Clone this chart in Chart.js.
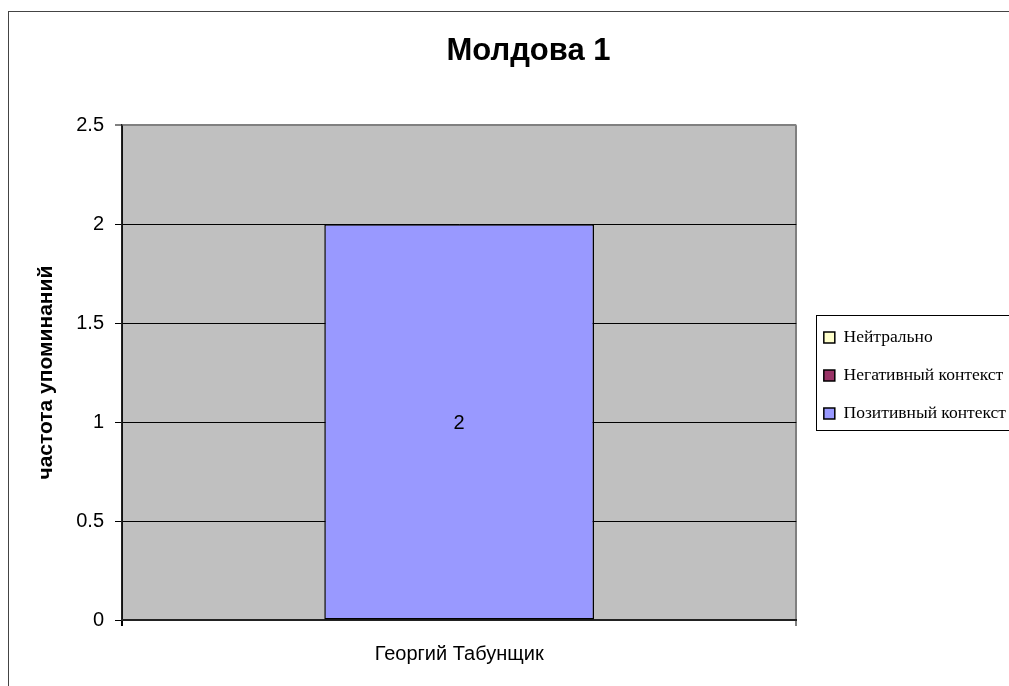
<!DOCTYPE html>
<html>
<head>
<meta charset="utf-8">
<script src="https://cdn.jsdelivr.net/npm/chart.js@4/dist/chart.umd.min.js"></script>
<style>
  html, body { margin: 0; padding: 0; background: #fff; }
  #wrap { width: 1009px; height: 686px; }
</style>
</head>
<body>
<div id="wrap"><canvas id="chart" width="1009" height="686"></canvas></div>
<script>
/* DATA */
const categories = ["Георгий Табунщик"];
const seriesNames = ["Нейтрально", "Негативный контекст", "Позитивный контекст"];
const seriesColors = ["#FFFFCC", "#993366", "#9999FF"];
const neutralValues = [0];
const negativeValues = [0];
const positiveValues = [2];
const yMin = 0, yMax = 2.5, yStep = 0.5;

const SANS = "Arial, 'Liberation Sans', sans-serif";
const SERIF = "'Times New Roman', 'Liberation Serif', serif";

/* frame, plot background, legend box, value labels */
const excelLook = {
  id: "excelLook",
  afterLayout(chart) {
    // legend sits a little right of the plot edge, title centred on the wider frame
    chart.legend.left += 7;
    chart.legend.right += 7;
    chart.legend.top += 3;
    chart.legend.bottom += 3;
    chart.titleBlock.left += 24;
    chart.titleBlock.right += 24;
  },
  beforeDraw(chart) {
    const { ctx, chartArea: a } = chart;
    ctx.save();
    ctx.strokeStyle = "#444";
    ctx.lineWidth = 1;
    ctx.strokeRect(8.5, 11.5, 1100, 1000);
    ctx.fillStyle = "#C0C0C0";
    ctx.fillRect(a.left, a.top, a.right - a.left, a.bottom - a.top);
    ctx.restore();
  },
  afterDraw(chart) {
    const { ctx } = chart;
    const cy = (chart.chartArea.top + chart.chartArea.bottom) / 2;
    ctx.save();
    ctx.strokeStyle = "#000";
    ctx.lineWidth = 1;
    ctx.strokeRect(816.5, Math.round(cy - 57.5) + 0.5, 400, 115);
    ctx.restore();
  },
  afterDatasetsDraw(chart) {
    const { ctx } = chart;
    ctx.save();
    ctx.font = "20px " + SANS;
    ctx.fillStyle = "#000";
    ctx.textAlign = "center";
    ctx.textBaseline = "middle";
    chart.data.datasets.forEach((ds, i) => {
      chart.getDatasetMeta(i).data.forEach((bar, j) => {
        const v = ds.data[j];
        if (!v) return;
        ctx.fillText(String(v), bar.x, (bar.y + bar.base) / 2 + 2);
      });
    });
    ctx.restore();
  }
};

const valueSets = [neutralValues, negativeValues, positiveValues];

new Chart(document.getElementById("chart"), {
  type: "bar",
  data: {
    labels: categories,
    datasets: seriesNames.map((name, i) => ({
      label: name,
      data: valueSets[i],
      backgroundColor: seriesColors[i],
      borderColor: "#000",
      borderWidth: 1.5,
      borderSkipped: false,
      barPercentage: 1,
      categoryPercentage: 0.4
    }))
  },
  options: {
    responsive: false,
    animation: false,
    devicePixelRatio: 1,
    layout: { padding: { left: 0, right: 0, top: 0, bottom: 4 } },
    plugins: {
      title: {
        display: true,
        text: "Молдова 1",
        color: "#000",
        font: { family: SANS, size: 31, weight: "bold" },
        padding: { top: 33, bottom: 55 }
      },
      legend: {
        position: "right",
        fullSize: false,
        maxWidth: 214,
        labels: {
          color: "#000",
          font: { family: SERIF, size: 17.5 },
          boxWidth: 11,
          boxHeight: 11,
          padding: 20.5,
          generateLabels(chart) {
            return chart.data.datasets.map((ds, i) => ({
              text: ds.label,
              fillStyle: ds.backgroundColor,
              strokeStyle: "#000",
              lineWidth: 1.5,
              datasetIndex: i
            }));
          }
        }
      },
      tooltip: { enabled: false }
    },
    scales: {
      x: {
        stacked: true,
        grid: {
          offset: true,
          drawOnChartArea: true,
          color: c => (c.index === 0 ? "#000" : "#808080"),
          lineWidth: 2,
          tickLength: 6
        },
        border: { display: true, color: "#222", width: 2 },
        ticks: { color: "#000", font: { family: SANS, size: 20 }, padding: 16 }
      },
      y: {
        stacked: true,
        min: yMin,
        max: yMax,
        afterFit(scale) { scale.width = 122; },
        ticks: {
          stepSize: yStep,
          color: "#000",
          font: { family: SANS, size: 20 },
          padding: 11,
          callback: v => String(v)
        },
        grid: {
          color: c => (c.tick && c.tick.value === yMax ? "#808080" : "#000"),
          lineWidth: c => (c.tick && c.tick.value === yMax ? 2 : 1),
          tickLength: 7
        },
        border: { display: true, color: "#222", width: 1.5 },
        title: {
          display: true,
          text: "частота упоминаний",
          color: "#000",
          font: { family: SANS, size: 21, weight: "bold" },
          padding: { top: 34, bottom: 0 }
        }
      }
    }
  },
  plugins: [excelLook]
});
</script>
</body>
</html>
